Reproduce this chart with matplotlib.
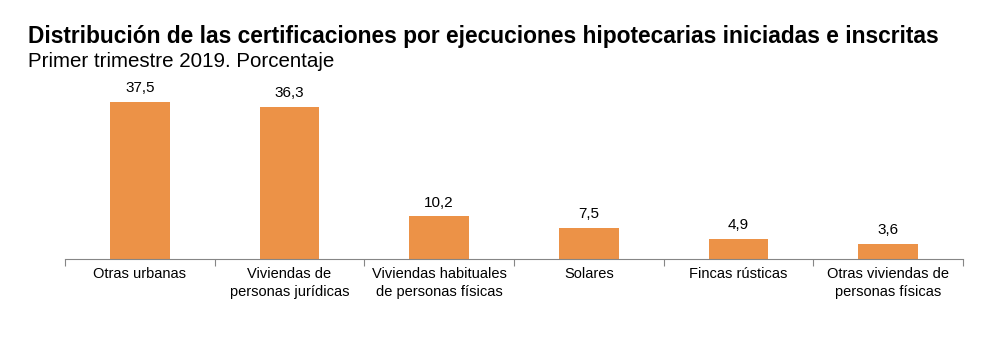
import matplotlib
matplotlib.use('Agg')
import matplotlib.pyplot as plt
import numpy as np

plt.rcParams['font.family'] = ['Liberation Sans', 'DejaVu Sans']

categories = ['Otras urbanas', 'Viviendas de\npersonas jurídicas',
              'Viviendas habituales\nde personas físicas', 'Solares',
              'Fincas rústicas', 'Otras viviendas de\npersonas físicas']
values = [37.5, 36.3, 10.2, 7.5, 4.9, 3.6]
value_labels = ['37,5', '36,3', '10,2', '7,5', '4,9', '3,6']

fig = plt.figure(figsize=(10, 3.53), dpi=100)
ax = fig.add_axes([0.065, 0.266, 0.898, 0.476])

x = np.arange(len(categories))
ax.bar(x, values, width=0.4, color='#EC9247')
for xi, v, lab in zip(x, values, value_labels):
    ax.text(xi, v + 1.6, lab, ha='center', va='bottom', fontsize=11)

ax.set_xlim(-0.5, len(categories) - 0.5)
ax.set_ylim(0, 40)
ax.set_yticks([])
for s in ['top', 'right', 'left']:
    ax.spines[s].set_visible(False)
ax.spines['bottom'].set_color('#868686')

# tick marks at category boundaries, labels centred under the bars
ax.set_xticks(np.arange(-0.5, len(categories)), minor=False)
ax.set_xticklabels([])
ax.tick_params(axis='x', which='major', length=5, color='#868686')
ax.set_xticks(x, minor=True)
ax.set_xticklabels(categories, minor=True, fontsize=10.5, linespacing=1.35)
ax.tick_params(axis='x', which='minor', length=0, pad=6)

fig.text(0.028, 0.878, 'Distribución de las certificaciones por ejecuciones hipotecarias iniciadas e inscritas',
         fontsize=16.4, fontweight='bold', va='baseline')
fig.text(0.028, 0.810, 'Primer trimestre 2019. Porcentaje', fontsize=14.8, va='baseline')

fig.savefig('out.png', dpi=100)
